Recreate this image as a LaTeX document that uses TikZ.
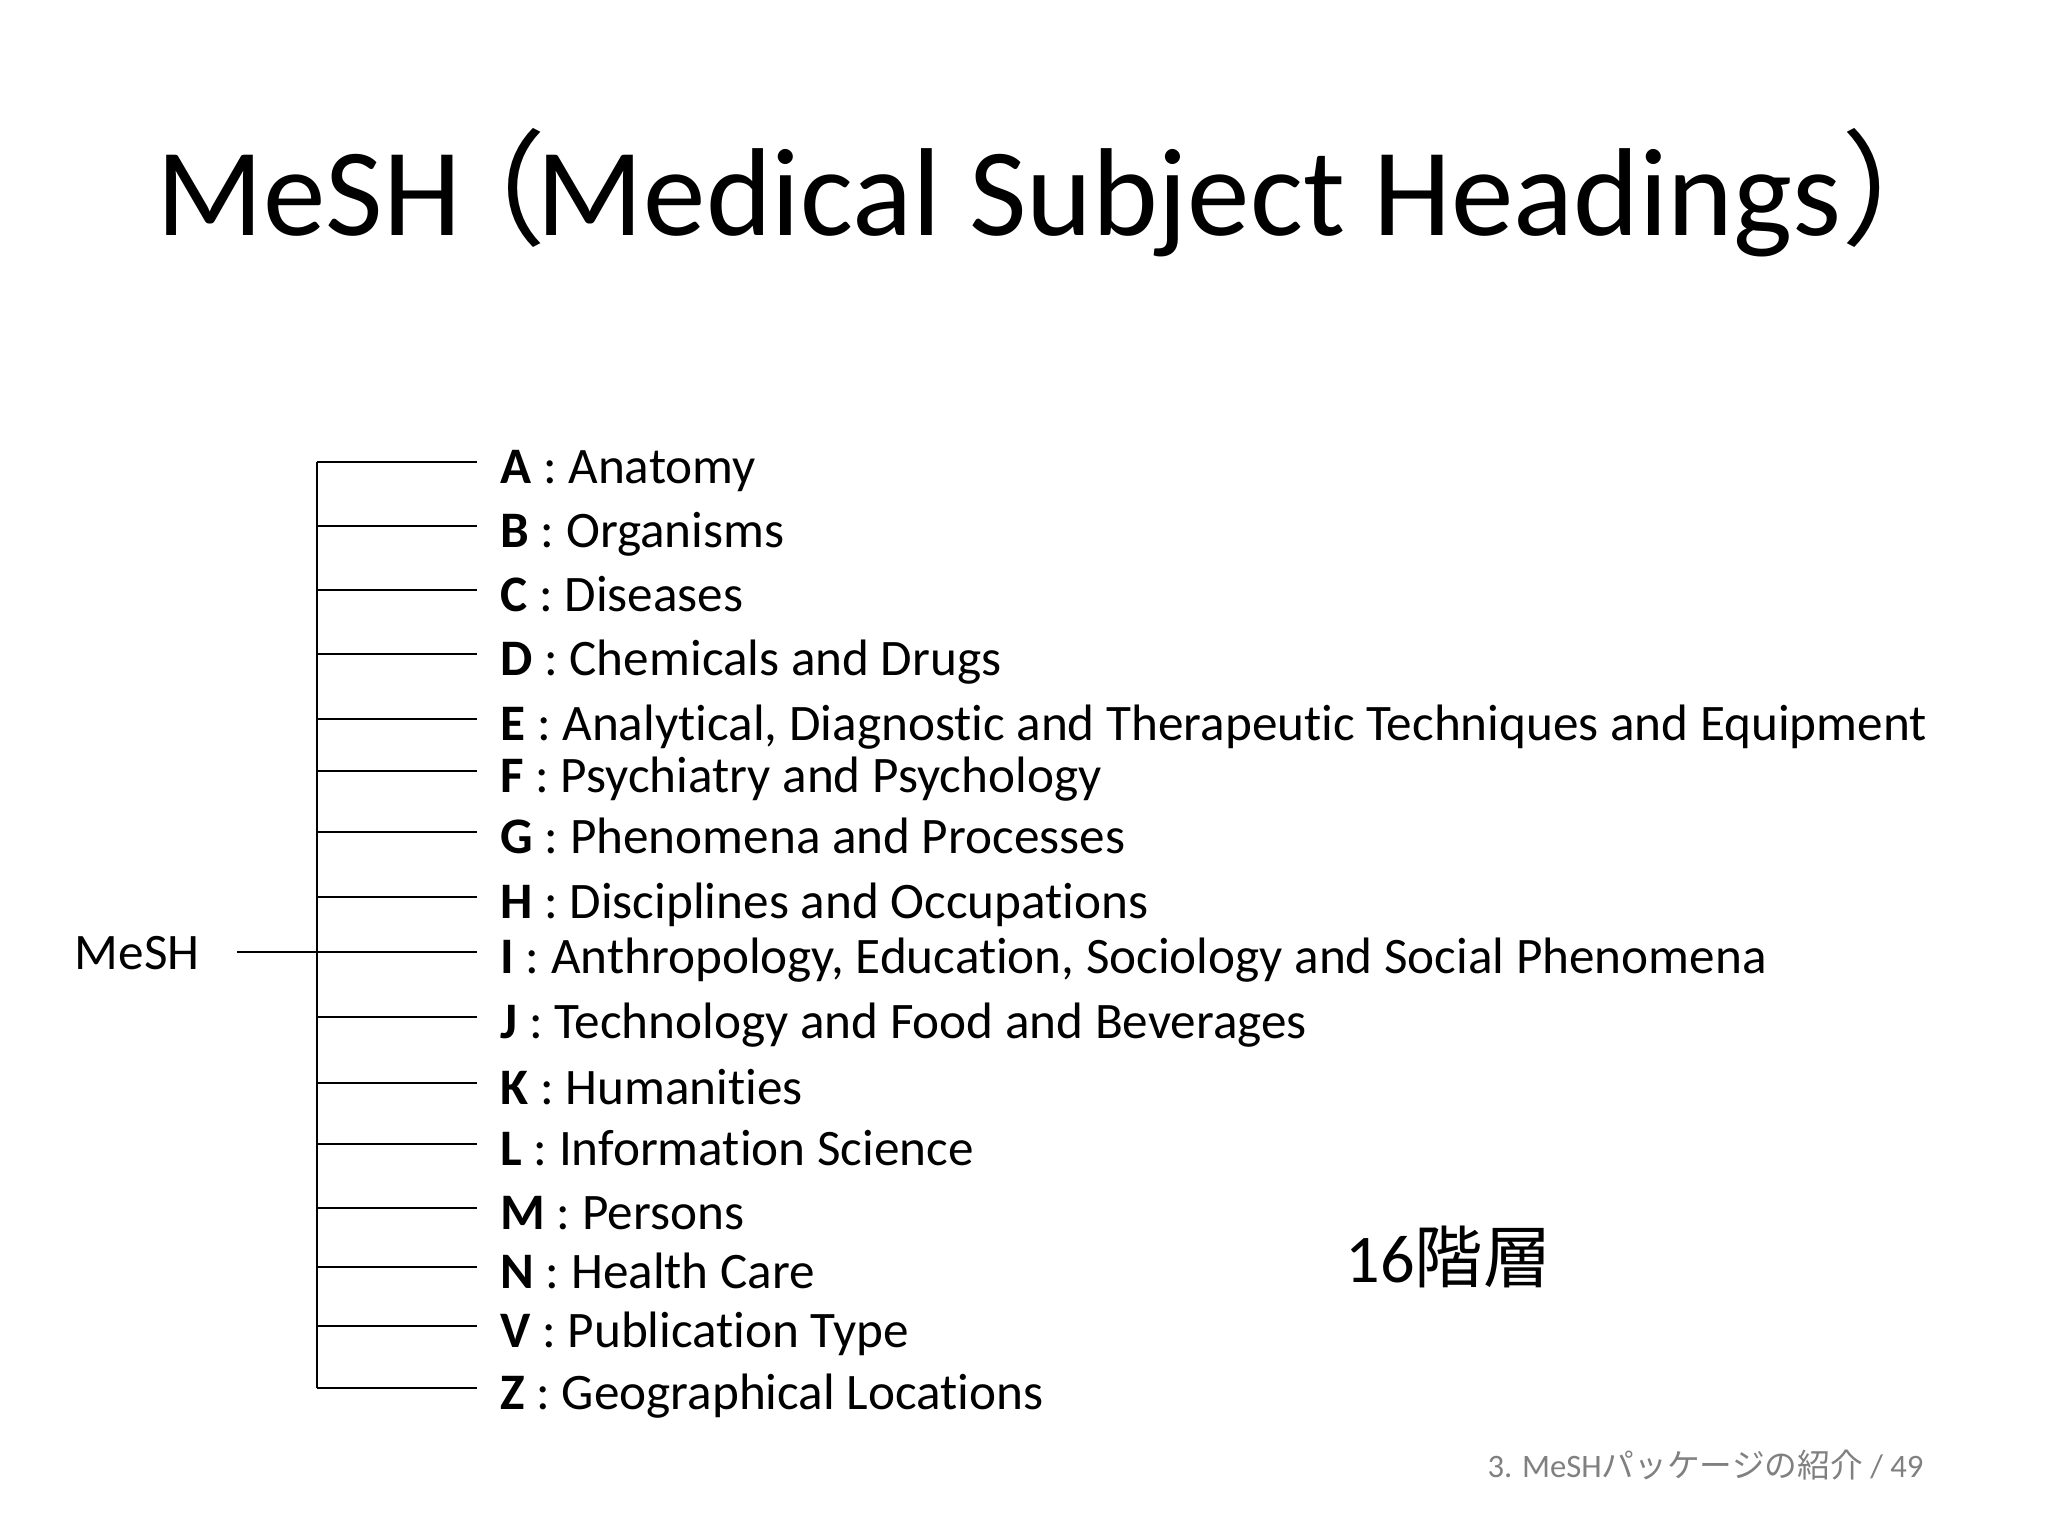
\documentclass[tikz,border=0pt]{standalone}
\usepackage{fontspec}
\setmainfont{Carlito}[Ligatures=NoCommon]
\newfontfamily\cjk{Noto Sans CJK JP}
\usetikzlibrary{positioning}
\definecolor{footgray}{RGB}{128, 128, 128}

\begin{document}
\begin{tikzpicture}[
  x=0.3516pt, y=-0.3516pt,
  branch/.style={draw=black, line width=0.75pt},
  item/.style={inner sep=0pt, font=\fontsize{18}{22}\selectfont, anchor=base west},
  rootlabel/.style={inner sep=0pt, font=\fontsize{18}{22}\selectfont, anchor=base east}
]
  \useasboundingbox (0,0) rectangle (2048,1536);

  % title
  \node[inner sep=0pt, anchor=base west, font=\fontsize{44}{52}\selectfont] (title) at (156,235)
    {MeSH\hspace{-14pt}{\cjk （}\hspace{-3.5pt}Medical Subject Headings{\cjk ）}};

  % root of the tree
  \node[rootlabel] (mesh) at (200,969) {MeSH};
  \coordinate (root) at (237,952);
  \coordinate (trunktop) at (317,462);
  \coordinate (trunkbot) at (317,1388);
  \draw[branch] (trunktop) -- (trunkbot);
  \draw[branch] (root) -- (root -| trunktop);

  % the 16 top categories
  \foreach \l/\y/\t in {A/462/Anatomy, B/526/Organisms, C/590/Diseases,
      D/654/Chemicals and Drugs,
      E/719/{Analytical, Diagnostic and Therapeutic Techniques and Equipment},
      F/771/Psychiatry and Psychology, G/832/Phenomena and Processes,
      H/897/Disciplines and Occupations,
      I/952/{Anthropology, Education, Sociology and Social Phenomena},
      J/1017/Technology and Food and Beverages, K/1083/Humanities,
      L/1144/Information Science, M/1208/Persons, N/1267/Health Care,
      V/1326/Publication Type, Z/1388/Geographical Locations} {
    \coordinate (j\l) at (317,\y);
    \node[item] (c\l) at (500,\y+21) {\textbf{\l} : \t};
    \draw[branch] (j\l) -- (477,\y);
  }

  \node[inner sep=0pt, anchor=base west, font=\fontsize{24}{28}\selectfont] (levels) at (1345,1282)
    {16{\cjk 階層}};

  % footer
  \node[inner sep=0pt, anchor=base east, text=footgray, font=\fontsize{11.5}{14}\selectfont] (footer) at (1924,1477)
    {3. MeSH{\cjk パッケージの紹介} / 49};
\end{tikzpicture}
\end{document}
